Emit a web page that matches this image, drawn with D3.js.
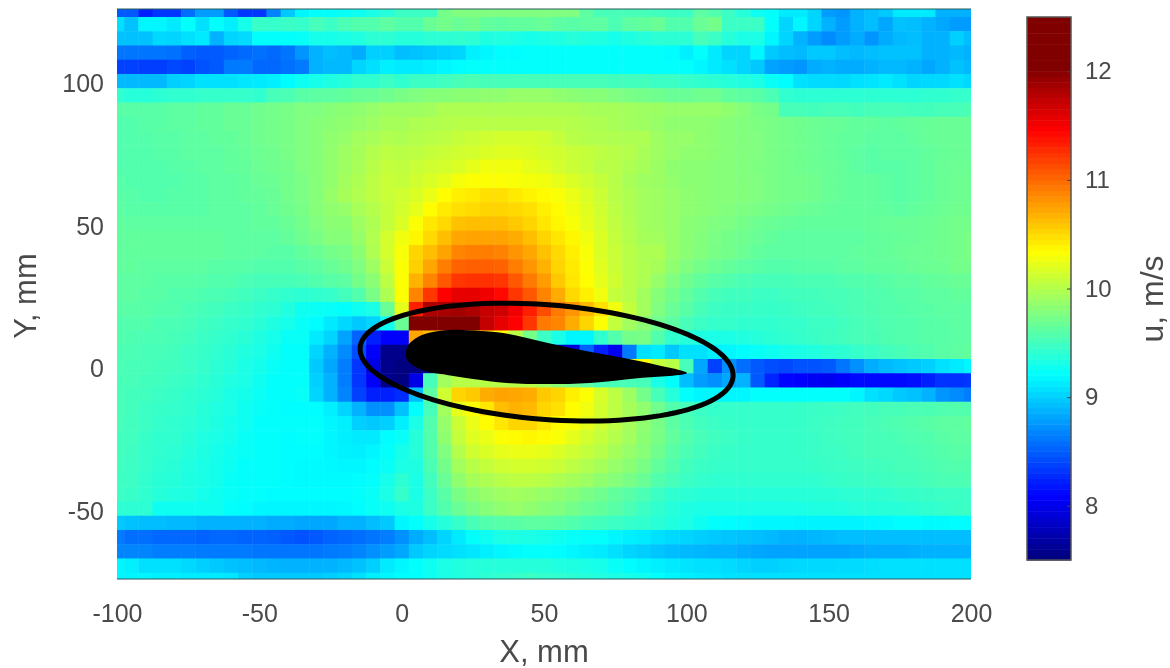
<!DOCTYPE html>
<html>
<head>
<meta charset="utf-8">
<script src="https://cdn.jsdelivr.net/npm/d3@7"></script>
<style>
  body { margin: 0; background: #fff; }
  svg { filter: blur(0.5px); }
  text { font-family: "Liberation Sans", Arial, sans-serif; fill: #4a4a4a; }
</style>
</head>
<body>
<div id="chart"></div>
<script>
// measured velocity u, m/s. cell centres every 5 mm
const xCentres = d3.range(-100, 201, 5);
const yCentres = d3.range(126, -75, -5);
const xTicks = [-100, -50, 0, 50, 100, 150, 200];
const yTicks = [-50, 0, 50, 100];
const barTicks = [8, 9, 10, 11, 12];

const u126 = [8.45,8.45,8.2,8.3,8.3,8.55,8.75,8.75,8.45,8.3,8.3,8.65,8.95,9.15,9.2,9.2,9.22,9.25,9.3,9.35,9.45, 9.45,9.45,9.7,9.75,9.75,9.75,9.75,9.75,9.75,9.75,9.75,9.75,9.6,9.5,9.5,9.5,9.5,9.47,9.45,9.45, 9.6,9.55,9.45,9.35,9.25,9.2,9.1,9.1,9,8.75,8.72,8.85,8.9,8.95,9.1,9.1,9.1,8.85,8.85,8.85];
const u121 = [9.05,8.92,9.15,9.15,9.1,9.2,9.05,9.2,9.12,9.28,9.43,9.42,9.45,9.42,9.5,9.45,9.52,9.55,9.55,9.6,9.55, 9.55,9.65,9.7,9.65,9.68,9.62,9.6,9.62,9.62,9.65,9.6,9.58,9.6,9.6,9.52,9.6,9.62,9.65,9.55,9.55, 9.65,9.7,9.45,9.45,9.45,9.2,9,9.15,9,8.85,8.75,8.85,8.9,8.8,8.92,8.9,8.85,8.8,8.75,8.75];
const u116 = [8.92,8.92,8.92,9.02,9,9.05,9.1,8.85,9,9.03,9.2,9.2,9.2,9.22,9.28,9.28,9.3,9.33,9.38,9.38,9.35, 9.35,9.38,9.38,9.4,9.38,9.32,9.33,9.3,9.28,9.3,9.32,9.35,9.33,9.32,9.28,9.32,9.35,9.38,9.38,9.38, 9.5,9.45,9.35,9.3,9.3,9.15,9,8.85,8.75,8.68,8.75,8.82,8.72,8.82,8.88,8.9,8.85,8.85,8.98,8.9];
const u111 = [8.58,8.58,8.58,8.58,8.56,8.48,8.46,8.46,8.5,8.53,8.56,8.53,8.58,8.72,8.85,8.9,8.88,8.82,8.98,8.98,8.9, 8.92,8.95,8.98,9,9.12,9.15,9.18,9.18,9.2,9.2,9.2,9.2,9.2,9.2,9.2,9.2,9.2,9.2,9.18,9.12, 9.2,9.1,9,9,9.15,8.95,8.9,8.88,8.95,8.95,8.9,8.88,8.9,8.92,8.92,8.92,8.85,8.85,8.88,8.85];
const u106 = [8.35,8.35,8.33,8.33,8.38,8.35,8.42,8.45,8.6,8.6,8.52,8.52,8.56,8.6,8.85,8.88,8.88,9,9.05,9.12,9.1, 9.1,9.12,9.15,9.18,9.2,9.2,9.2,9.2,9.2,9.2,9.2,9.2,9.2,9.2,9.2,9.2,9.2,9.2,9.2,9.2, 9.15,9.1,9.05,9,8.95,8.78,8.75,8.72,8.82,8.85,8.82,8.82,8.85,8.88,8.88,8.85,8.8,8.85,8.92,8.88];
const u101 = [8.88,8.88,8.88,8.88,8.98,9,9.05,9.05,9.05,9.08,9.1,9.12,9.18,9.25,9.28,9.32,9.35,9.4,9.4,9.45,9.4, 9.45,9.45,9.47,9.5,9.52,9.5,9.5,9.5,9.5,9.5,9.5,9.5,9.5,9.5,9.48,9.48,9.48,9.45,9.45,9.42, 9.4,9.38,9.35,9.33,9.3,9.22,9.18,9.05,9.03,9.03,9.02,9.05,9.07,9.1,9.05,9,9.02,9.02,9.05,9.02];
const u96 = [9.4,9.35,9.35,9.38,9.4,9.4,9.42,9.42,9.42,9.42,9.4,9.5,9.52,9.58,9.6,9.6,9.62,9.65,9.65,9.68,9.72, 9.75,9.78,9.78,9.8,9.8,9.82,9.82,9.85,9.85,9.85,9.82,9.8,9.78,9.78,9.75,9.72,9.7,9.68,9.65,9.65, 9.68,9.68,9.62,9.6,9.58,9.52,9.4,9.38,9.38,9.38,9.38,9.38,9.38,9.38,9.38,9.38,9.4,9.4,9.42,9.42];
const u91 = [9.58,9.58,9.58,9.58,9.6,9.6,9.62,9.62,9.65,9.65,9.68,9.7,9.72,9.75,9.75,9.78,9.8,9.82,9.85,9.88,9.88, 9.88,9.9,9.95,9.95,9.95,9.95,9.95,9.95,9.95,9.95,9.95,9.95,9.93,9.92,9.92,9.9,9.88,9.87,9.85,9.85, 9.85,9.85,9.82,9.78,9.72,9.7,9.5,9.5,9.48,9.5,9.5,9.48,9.5,9.5,9.5,9.48,9.48,9.5,9.5,9.52];
const u86 = [9.55,9.55,9.57,9.58,9.6,9.6,9.62,9.62,9.65,9.65,9.68,9.7,9.72,9.75,9.78,9.8,9.82,9.85,9.88,9.92,9.92, 9.95,9.97,9.98,10,10,10,10,10,10,10,10,9.98,9.97,9.95,9.93,9.9,9.88,9.85,9.82,9.82, 9.82,9.8,9.78,9.76,9.74,9.72,9.7,9.68,9.66,9.65,9.64,9.62,9.62,9.6,9.62,9.63,9.64,9.65,9.65,9.65];
const u81 = [9.55,9.55,9.56,9.58,9.58,9.6,9.6,9.62,9.62,9.65,9.68,9.7,9.72,9.75,9.78,9.82,9.85,9.9,9.93,9.97,9.95, 9.98,10,10.02,10.05,10.07,10.1,10.12,10.12,10.12,10.1,10.05,10,9.98,9.97,9.96,9.95,9.95,9.88,9.85,9.85, 9.82,9.8,9.78,9.76,9.75,9.72,9.7,9.68,9.66,9.64,9.62,9.62,9.6,9.6,9.6,9.62,9.64,9.65,9.65,9.65];
const u76 = [9.55,9.55,9.55,9.57,9.58,9.6,9.6,9.6,9.62,9.64,9.67,9.68,9.72,9.75,9.78,9.83,9.88,9.92,9.98,10.02,10, 10.02,10.05,10.08,10.1,10.12,10.15,10.17,10.17,10.15,10.12,10.1,10.07,10.05,10.02,10,9.98,9.93,9.88,9.85,9.82, 9.82,9.8,9.78,9.76,9.75,9.72,9.7,9.68,9.66,9.64,9.62,9.6,9.58,9.6,9.6,9.6,9.62,9.64,9.65,9.65];
const u71 = [9.55,9.55,9.55,9.55,9.57,9.58,9.6,9.6,9.62,9.63,9.66,9.68,9.7,9.75,9.78,9.83,9.88,9.93,10,10.05,10.03, 10.07,10.1,10.12,10.15,10.2,10.25,10.25,10.25,10.2,10.17,10.12,10.08,10.05,10,10,9.95,9.92,9.87,9.82,9.8, 9.8,9.78,9.78,9.76,9.74,9.72,9.7,9.68,9.66,9.65,9.63,9.6,9.58,9.58,9.58,9.6,9.62,9.65,9.66,9.66];
const u66 = [9.57,9.55,9.55,9.55,9.55,9.57,9.58,9.6,9.6,9.62,9.65,9.66,9.7,9.73,9.78,9.83,9.9,9.95,10.02,10.07,10.05, 10.1,10.15,10.2,10.27,10.3,10.3,10.3,10.28,10.27,10.25,10.2,10.15,10.1,10.05,10,9.93,9.88,9.87,9.83,9.8, 9.8,9.78,9.78,9.76,9.75,9.72,9.7,9.7,9.68,9.65,9.63,9.62,9.62,9.6,9.58,9.6,9.62,9.65,9.67,9.67];
const u61 = [9.58,9.57,9.55,9.55,9.57,9.57,9.58,9.6,9.6,9.62,9.63,9.65,9.7,9.73,9.78,9.85,9.92,9.97,10.02,10.07,10.1, 10.15,10.22,10.32,10.38,10.4,10.45,10.45,10.4,10.36,10.33,10.28,10.22,10.15,10.08,10,9.95,9.9,9.88,9.85,9.82, 9.8,9.78,9.78,9.77,9.75,9.72,9.7,9.7,9.68,9.65,9.63,9.62,9.62,9.6,9.58,9.6,9.62,9.65,9.67,9.67];
const u56 = [9.6,9.58,9.58,9.57,9.58,9.58,9.58,9.6,9.6,9.6,9.62,9.65,9.68,9.72,9.78,9.82,9.85,9.93,9.98,10.05,10.12, 10.2,10.32,10.4,10.45,10.47,10.5,10.5,10.48,10.45,10.38,10.33,10.25,10.18,10.1,10.02,9.95,9.9,9.88,9.85,9.82, 9.8,9.78,9.76,9.74,9.72,9.7,9.68,9.66,9.65,9.63,9.62,9.62,9.62,9.62,9.6,9.62,9.64,9.66,9.68,9.68];
const u51 = [9.62,9.6,9.6,9.6,9.6,9.6,9.6,9.6,9.6,9.6,9.62,9.62,9.65,9.7,9.75,9.8,9.8,9.88,9.95,10.05,10.15, 10.3,10.42,10.48,10.58,10.6,10.6,10.6,10.55,10.5,10.42,10.35,10.28,10.2,10.12,10.03,9.97,9.9,9.88,9.85,9.8, 9.78,9.75,9.73,9.7,9.67,9.65,9.63,9.62,9.62,9.62,9.62,9.62,9.63,9.64,9.65,9.65,9.66,9.68,9.7,9.7];
const u46 = [9.62,9.62,9.62,9.62,9.62,9.62,9.62,9.62,9.6,9.6,9.6,9.6,9.63,9.68,9.72,9.78,9.78,9.85,9.97,10.12,10.25, 10.35,10.48,10.6,10.7,10.72,10.72,10.72,10.68,10.6,10.5,10.42,10.35,10.25,10.15,10.05,9.98,9.92,9.9,9.85,9.8, 9.77,9.73,9.7,9.68,9.65,9.62,9.6,9.6,9.6,9.6,9.6,9.6,9.62,9.63,9.64,9.65,9.66,9.68,9.7,9.72];
const u41 = [9.62,9.62,9.62,9.62,9.62,9.62,9.62,9.62,9.6,9.6,9.6,9.58,9.58,9.62,9.65,9.7,9.72,9.8,9.95,10.12,10.28, 10.5,10.6,10.72,10.85,10.88,10.88,10.86,10.78,10.7,10.58,10.48,10.38,10.28,10.15,10.07,10,9.95,9.95,9.85,9.8, 9.76,9.72,9.7,9.66,9.62,9.6,9.6,9.6,9.6,9.6,9.6,9.62,9.62,9.63,9.65,9.66,9.67,9.68,9.7,9.72];
const u36 = [9.62,9.62,9.6,9.6,9.6,9.6,9.6,9.58,9.57,9.57,9.55,9.55,9.55,9.58,9.6,9.64,9.68,9.75,9.88,10.08,10.3, 10.52,10.7,10.88,11,11.02,11.02,11,10.88,10.78,10.65,10.5,10.4,10.3,10.18,10.08,10,9.95,9.92,9.82,9.75, 9.7,9.66,9.63,9.6,9.58,9.56,9.56,9.57,9.58,9.58,9.6,9.6,9.62,9.62,9.63,9.65,9.66,9.67,9.7,9.7];
const u31 = [9.6,9.6,9.6,9.58,9.58,9.58,9.57,9.55,9.55,9.52,9.5,9.5,9.5,9.52,9.55,9.58,9.6,9.7,9.8,10.02,10.3, 10.65,10.85,11.05,11.2,11.22,11.22,11.2,11.05,10.9,10.75,10.55,10.42,10.32,10.2,10.1,10,9.95,9.85,9.75,9.68, 9.62,9.58,9.55,9.52,9.5,9.5,9.5,9.52,9.52,9.52,9.54,9.55,9.56,9.58,9.6,9.6,9.62,9.63,9.65,9.65];
const u26 = [9.6,9.6,9.58,9.58,9.55,9.55,9.53,9.52,9.5,9.47,9.45,9.42,9.4,9.38,9.4,9.42,9.48,9.55,9.72,9.95,10.3, 10.85,11.2,11.44,11.55,11.55,11.5,11.4,11.2,11.05,10.85,10.68,10.48,10.38,10.25,10.05,10,9.9,9.78,9.7,9.62, 9.55,9.5,9.47,9.47,9.45,9.45,9.47,9.48,9.48,9.5,9.5,9.52,9.54,9.55,9.57,9.58,9.6,9.6,9.62,9.62];
const u21 = [9.58,9.58,9.57,9.55,9.55,9.52,9.5,9.48,9.45,9.43,9.4,9.38,9.33,9.25,9.23,9.22,9.2,9.25,9.3,9.65,10.2, 11.3,11.8,11.82,11.85,11.8,11.7,11.65,11.5,11.3,11.1,10.9,10.78,10.62,10.45,10.25,10.05,9.9,9.75,9.65,9.58, 9.5,9.46,9.44,9.44,9.43,9.43,9.44,9.46,9.47,9.48,9.5,9.52,9.53,9.55,9.56,9.57,9.58,9.6,9.6,9.6];
const u16 = [9.55,9.55,9.55,9.52,9.52,9.5,9.47,9.45,9.42,9.4,9.37,9.32,9.28,9.22,9.18,9.1,9.02,8.95,9,9.25,9.65, 12.1,12.1,12.05,12,12,11.7,11.55,11.44,11.2,10.9,10.85,10.68,10.5,10.3,10.05,9.9,9.8,9.68,9.6,9.5, 9.45,9.42,9.42,9.4,9.4,9.4,9.42,9.42,9.45,9.45,9.47,9.5,9.52,9.54,9.55,9.56,9.57,9.58,9.6,9.6];
const u11 = [9.55,9.53,9.52,9.52,9.5,9.48,9.45,9.42,9.4,9.37,9.32,9.28,9.22,9.22,9.1,9,8.78,8.5,8.2,8.05,8.05, 10.7,10.6,10.5,10.4,10.4,10.4,10.3,10,9.7,9.45,9.3,9.15,9.15,9.4,9.55,9.7,9.72,9.55,9.4,9.35, 9.32,9.3,9.3,9.33,9.35,9.38,9.4,9.42,9.44,9.46,9.48,9.5,9.51,9.53,9.55,9.56,9.57,9.58,9.59,9.6];
const u6 = [9.52,9.52,9.5,9.5,9.48,9.45,9.43,9.4,9.37,9.33,9.3,9.25,9.2,9.2,9,8.85,8.68,8.4,8.05,7.55,7.55, 7.5,7.5,7.5,7.5,7.5,7.5,7.5,7.5,7.6,7.7,7.8,7.9,8.5,8.2,8,8.6,9.05,9.1,8.95,9.05, 9.05,9.12,9.15,9.18,9.22,9.25,9.28,9.3,9.33,9.36,9.38,9.42,9.45,9.48,9.5,9.53,9.55,9.58,9.6,9.62];
const u1 = [9.52,9.5,9.5,9.48,9.47,9.45,9.42,9.38,9.35,9.3,9.27,9.22,9.2,9.2,8.95,8.8,8.62,8.3,7.95,7.55,7.5, 7.5,7.6,7.7,7.8,7.8,7.8,7.8,7.8,7.8,7.8,7.8,8,8.6,9,9.2,10.2,10.3,10.05,10,9.5, 8.8,8.35,8.7,8.55,8.45,8.4,8.38,8.42,8.42,8.45,8.58,8.7,8.82,8.88,8.92,8.95,8.98,9.05,9.1,9.15];
const um4 = [9.5,9.5,9.48,9.47,9.45,9.43,9.4,9.37,9.33,9.3,9.25,9.2,9.2,9.2,8.98,8.85,8.62,8.3,8.05,7.55,7.5, 7.95,9.5,9.9,10,10,10,10,10,10,9.9,9.8,9.7,9.6,9.5,9.5,9.5,9.5,9.3,9.2,8.9, 8.75,8.7,8.8,8.85,8.45,8.22,8.08,8.05,8.02,8,8.04,8.1,8.1,8.1,8.1,8.12,8.2,8.28,8.28,8.3];
const um9 = [9.5,9.48,9.47,9.45,9.43,9.4,9.38,9.35,9.3,9.27,9.23,9.2,9.2,9.22,9,8.85,8.65,8.35,8.2,8.2,8.25, 8.9,9.6,10.1,10.5,10.55,10.68,10.72,10.7,10.68,10.55,10.5,10.38,10.3,10.13,10.02,9.88,9.7,9.5,9.35,9.2, 9.15,9.15,9.15,9.15,9.2,9.2,9.2,9.2,9.2,9.2,9.2,9.15,9.05,9.02,8.95,8.92,8.85,8.72,8.68,8.62];
const um14 = [9.5,9.48,9.45,9.43,9.42,9.4,9.36,9.33,9.3,9.25,9.22,9.2,9.18,9.18,9.18,9.12,9,8.85,8.7,8.7,8.92, 9.2,9.5,9.9,10.2,10.3,10.42,10.6,10.65,10.62,10.5,10.45,10.32,10.25,10.12,10.02,9.92,9.82,9.68,9.55,9.5, 9.45,9.42,9.42,9.42,9.42,9.42,9.42,9.43,9.44,9.45,9.46,9.47,9.48,9.5,9.5,9.52,9.52,9.54,9.55,9.55];
const um19 = [9.5,9.47,9.45,9.42,9.4,9.38,9.35,9.32,9.28,9.25,9.2,9.2,9.2,9.2,9.2,9.15,9.12,8.98,8.95,8.98,9.12, 9.3,9.55,9.85,10.08,10.22,10.32,10.42,10.5,10.5,10.42,10.32,10.28,10.2,10.1,10.02,9.92,9.82,9.72,9.6,9.52, 9.47,9.45,9.43,9.42,9.42,9.42,9.42,9.43,9.45,9.46,9.47,9.48,9.5,9.52,9.54,9.56,9.58,9.6,9.6,9.62];
const um24 = [9.48,9.47,9.43,9.4,9.4,9.37,9.33,9.3,9.27,9.22,9.2,9.2,9.18,9.2,9.2,9.15,9.12,9.1,9.1,9.18,9.22, 9.35,9.55,9.82,10.05,10.17,10.22,10.3,10.33,10.35,10.33,10.28,10.2,10.12,10.05,9.98,9.9,9.8,9.72,9.62,9.55, 9.5,9.47,9.45,9.43,9.42,9.42,9.42,9.43,9.44,9.46,9.47,9.48,9.5,9.5,9.52,9.54,9.55,9.58,9.6,9.6];
const um29 = [9.48,9.46,9.42,9.4,9.38,9.35,9.32,9.28,9.25,9.22,9.2,9.2,9.18,9.18,9.18,9.15,9.13,9.12,9.15,9.2,9.28, 9.35,9.55,9.75,9.98,10.1,10.15,10.2,10.22,10.22,10.2,10.15,10.1,10.05,10,9.92,9.85,9.78,9.68,9.58,9.52, 9.48,9.45,9.43,9.42,9.42,9.42,9.42,9.43,9.44,9.45,9.46,9.48,9.5,9.5,9.5,9.52,9.54,9.56,9.58,9.58];
const um34 = [9.47,9.45,9.42,9.38,9.37,9.33,9.3,9.27,9.24,9.2,9.2,9.2,9.18,9.17,9.17,9.16,9.15,9.15,9.18,9.22,9.3, 9.32,9.52,9.7,9.9,10,10.05,10.1,10.12,10.12,10.1,10.07,10.02,9.97,9.92,9.85,9.8,9.72,9.62,9.55,9.48, 9.45,9.43,9.42,9.42,9.42,9.42,9.42,9.42,9.43,9.44,9.45,9.46,9.47,9.48,9.5,9.5,9.52,9.54,9.55,9.55];
const um39 = [9.45,9.45,9.4,9.37,9.35,9.32,9.3,9.27,9.22,9.2,9.2,9.2,9.18,9.17,9.17,9.17,9.17,9.18,9.2,9.28,9.38, 9.3,9.48,9.65,9.82,9.92,9.95,10,10.02,10.02,10,9.95,9.92,9.88,9.82,9.78,9.72,9.65,9.55,9.5,9.45, 9.42,9.4,9.4,9.4,9.4,9.4,9.4,9.4,9.4,9.42,9.43,9.44,9.45,9.46,9.47,9.48,9.5,9.52,9.52,9.53];
const um44 = [9.45,9.43,9.4,9.35,9.33,9.32,9.28,9.25,9.22,9.2,9.2,9.18,9.18,9.18,9.18,9.18,9.18,9.2,9.22,9.3,9.42, 9.3,9.45,9.58,9.72,9.8,9.85,9.88,9.9,9.88,9.85,9.82,9.78,9.72,9.68,9.62,9.58,9.52,9.45,9.4,9.38, 9.36,9.35,9.35,9.35,9.35,9.35,9.35,9.36,9.36,9.37,9.38,9.38,9.39,9.4,9.42,9.43,9.44,9.45,9.45,9.45];
const um49 = [9.38,9.38,9.38,9.25,9.25,9.25,9.25,9.25,9.2,9.18,9.15,9.15,9.15,9.15,9.15,9.15,9.16,9.18,9.22,9.25,9.3, 9.32,9.45,9.55,9.65,9.72,9.78,9.82,9.85,9.82,9.78,9.75,9.7,9.65,9.62,9.58,9.52,9.45,9.4,9.35,9.32, 9.3,9.3,9.3,9.3,9.3,9.3,9.3,9.3,9.32,9.32,9.33,9.35,9.35,9.36,9.37,9.38,9.4,9.42,9.44,9.45];
const um54 = [8.95,8.92,8.9,8.9,8.88,8.88,8.85,8.85,8.85,8.85,8.85,8.82,8.82,8.8,8.8,8.8,8.85,8.85,8.9,8.95,9.15, 9.2,9.28,9.35,9.42,9.5,9.55,9.57,9.58,9.6,9.6,9.58,9.55,9.5,9.48,9.45,9.42,9.4,9.37,9.33,9.3, 9.25,9.2,9.18,9.17,9.15,9.15,9.15,9.14,9.14,9.14,9.14,9.14,9.15,9.16,9.18,9.18,9.17,9.17,9.18,9.18];
const um59 = [8.6,8.55,8.55,8.52,8.52,8.52,8.5,8.52,8.52,8.5,8.5,8.48,8.45,8.42,8.45,8.5,8.52,8.55,8.58,8.62,8.7, 8.82,8.9,9,9.1,9.2,9.25,9.3,9.32,9.3,9.28,9.25,9.22,9.2,9.2,9.15,9.12,9.1,9.05,9.02,9, 8.97,8.95,8.93,8.92,8.9,8.88,8.85,8.85,8.87,8.88,8.9,8.9,8.9,8.9,8.9,8.9,8.9,8.9,8.9,8.9];
const um64 = [8.65,8.65,8.65,8.62,8.62,8.62,8.6,8.6,8.6,8.6,8.58,8.58,8.58,8.58,8.58,8.6,8.62,8.65,8.7,8.75,8.8, 8.95,9,9.03,9.05,9.08,9.12,9.15,9.17,9.2,9.2,9.18,9.15,9.12,9.1,9.05,9,8.97,8.93,8.9,8.88, 8.87,8.85,8.85,8.82,8.8,8.78,8.78,8.78,8.78,8.78,8.78,8.8,8.82,8.82,8.82,8.84,8.85,8.85,8.85,8.85];
const um69 = [9.15,9.12,9.05,9.05,9.05,9.02,8.98,8.95,8.92,8.9,8.88,8.86,8.85,8.85,8.85,8.85,8.88,8.92,8.98,9.1,9.15, 9.2,9.25,9.3,9.33,9.35,9.35,9.35,9.35,9.35,9.35,9.33,9.32,9.3,9.28,9.22,9.18,9.15,9.12,9.1,9.07, 9.05,9.05,9.03,9,8.98,8.98,9,9.02,9.02,9.02,9.03,9.03,9.04,9.05,9.05,9.05,9.05,9.05,9.05,9.05];
const um74 = [9.15,9.15,9.15,9.12,9.12,9.1,9.1,9.1,9.08,8.98,8.95,8.95,8.95,8.95,8.95,8.97,9,9.05,9.12,9.15,9.18, 9.2,9.25,9.3,9.33,9.35,9.38,9.4,9.42,9.45,9.42,9.4,9.38,9.35,9.33,9.3,9.28,9.25,9.2,9.15,9.12, 9.1,9.08,9.06,9.05,9.05,9.05,9.05,9.05,9.05,9.05,9.05,9.05,9.05,9.05,9.05,9.05,9.05,9.05,9.05,9.05];

const uRows = [u126,u121,u116,u111,u106,u101,u96,u91,u86,u81,u76,u71,u66,u61,u56,u51,u46,u41,u36,u31,u26,u21,u16,u11,u6,u1,um4,um9,um14,um19,um24,um29,um34,um39,um44,um49,um54,um59,um64,um69,um74];

// airfoil outline, mm
const airfoilX = [2,6,11,17,27.5,35.6,44,54.5,66.1,77.7,89.7,100.2,83.7,66.1,51,37,25,15.9,7.1,1.9];
const airfoilY = [7.8,11.4,13,13.7,13.3,12.6,10.9,8.4,6,3.9,1.4,-1.4,-3.2,-4.9,-5.3,-4.9,-3.5,-2.1,-0.4,3.2];

// measuring region ellipse, mm
const ellipseCx = 50.9, ellipseCy = 2.4, ellipseA = 65.7, ellipseB = 20.1, ellipseTilt = -4.44;

const svg = d3.select("#chart").append("svg")
    .attr("width", 1170)
    .attr("height", 668);

const plotLeft = 117, plotRight = 971, plotTop = 9, plotBottom = 579;

const x = d3.scaleLinear().domain([-100, 200]).range([plotLeft, plotRight]);
const y = d3.scaleLinear().domain([-73.7, 126.3]).range([plotBottom, plotTop]);

// jet, saturated above 12
const color = d3.scaleLinear()
    .domain([7.5, 8.0625, 9.1875, 10.3125, 11.4375, 12])
    .range(["#000080", "#0000ff", "#00ffff", "#ffff00", "#ff0000", "#800000"])
    .clamp(true);

svg.append("clipPath").attr("id", "plot")
    .append("rect")
    .attr("x", plotLeft).attr("y", plotTop)
    .attr("width", plotRight - plotLeft).attr("height", plotBottom - plotTop);

const cells = [];
uRows.forEach((row, r) => row.forEach((v, c) => cells.push({x: xCentres[c], y: yCentres[r], v: v})));

svg.append("g").attr("clip-path", "url(#plot)")
    .selectAll("rect")
    .data(cells).enter()
    .append("rect")
    .attr("x", d => x(d.x - 2.5))
    .attr("y", d => y(d.y + 2.5))
    .attr("width", x(5) - x(0) + 0.5)
    .attr("height", y(0) - y(5) + 0.5)
    .attr("fill", d => color(d.v));

// airfoil
const outline = d3.line().x(d => x(d[0])).y(d => y(d[1])).curve(d3.curveCatmullRomClosed.alpha(0.5));
svg.append("path")
    .attr("d", outline(airfoilX.map((d, i) => [d, airfoilY[i]])))
    .attr("fill", "#000");

// ellipse
const tilt = ellipseTilt * Math.PI / 180;
const ellipsePts = d3.range(0, 360, 3).map(a => {
    const t = a * Math.PI / 180;
    const ex = ellipseA * Math.cos(t), ey = ellipseB * Math.sin(t);
    return [ellipseCx + ex * Math.cos(tilt) - ey * Math.sin(tilt),
            ellipseCy + ex * Math.sin(tilt) + ey * Math.cos(tilt)];
});
svg.append("path")
    .attr("d", d3.line().x(d => x(d[0])).y(d => y(d[1])).curve(d3.curveLinearClosed)(ellipsePts))
    .attr("fill", "none")
    .attr("stroke", "#000")
    .attr("stroke-width", 5);

// axes, only the horizontal box lines show in the original
svg.append("line").attr("x1", plotLeft).attr("x2", plotRight).attr("y1", plotTop).attr("y2", plotTop)
    .attr("stroke", "#2a5a5a").attr("stroke-width", 1);
svg.append("line").attr("x1", plotLeft).attr("x2", plotRight).attr("y1", plotBottom).attr("y2", plotBottom)
    .attr("stroke", "#2a5a5a").attr("stroke-width", 1);

const xAxis = svg.append("g")
    .attr("transform", "translate(0," + plotBottom + ")")
    .call(d3.axisBottom(x).tickValues(xTicks).tickSize(0).tickPadding(43).tickFormat(d => String(d)));
xAxis.select(".domain").remove();
xAxis.selectAll("text").attr("font-size", 25).attr("dy", 0).style("font-family", "Liberation Sans");

const yAxis = svg.append("g")
    .attr("transform", "translate(" + plotLeft + ",0)")
    .call(d3.axisLeft(y).tickValues(yTicks).tickSize(0).tickPadding(13).tickFormat(d => String(d)));
yAxis.select(".domain").remove();
yAxis.selectAll("text").attr("font-size", 25).style("font-family", "Liberation Sans");

svg.append("text").attr("x", 544).attr("y", 662).attr("text-anchor", "middle")
    .attr("font-size", 31).text("X, mm");
svg.append("text").attr("transform", "translate(36,296) rotate(-90)").attr("text-anchor", "middle")
    .attr("font-size", 31).text("Y, mm");

// colorbar
const barLeft = 1027, barRight = 1071;
const barY = d3.scaleLinear().domain([7.5, 12.5]).range([560, 17]);
const barLevels = d3.range(7.5, 12.5, 0.05);

svg.append("g").selectAll("rect")
    .data(barLevels).enter()
    .append("rect")
    .attr("x", barLeft)
    .attr("width", barRight - barLeft)
    .attr("y", d => barY(d + 0.05))
    .attr("height", barY(7.5) - barY(7.55) + 0.5)
    .attr("fill", d => color(d));

svg.append("rect")
    .attr("x", barLeft).attr("y", 17)
    .attr("width", barRight - barLeft).attr("height", 543)
    .attr("fill", "none").attr("stroke", "#555").attr("stroke-width", 1.5);

const barAxis = svg.append("g")
    .attr("transform", "translate(" + barRight + ",0)")
    .call(d3.axisRight(barY).tickValues(barTicks).tickSize(-4).tickPadding(14).tickFormat(d => String(d)));
barAxis.select(".domain").remove();
barAxis.selectAll("line").attr("stroke", "#444");
barAxis.selectAll("text").attr("font-size", 24).style("font-family", "Liberation Sans");

svg.append("text").attr("transform", "translate(1163,299) rotate(-90)").attr("text-anchor", "middle")
    .attr("font-size", 32).text("u, m/s");
</script>
</body>
</html>
